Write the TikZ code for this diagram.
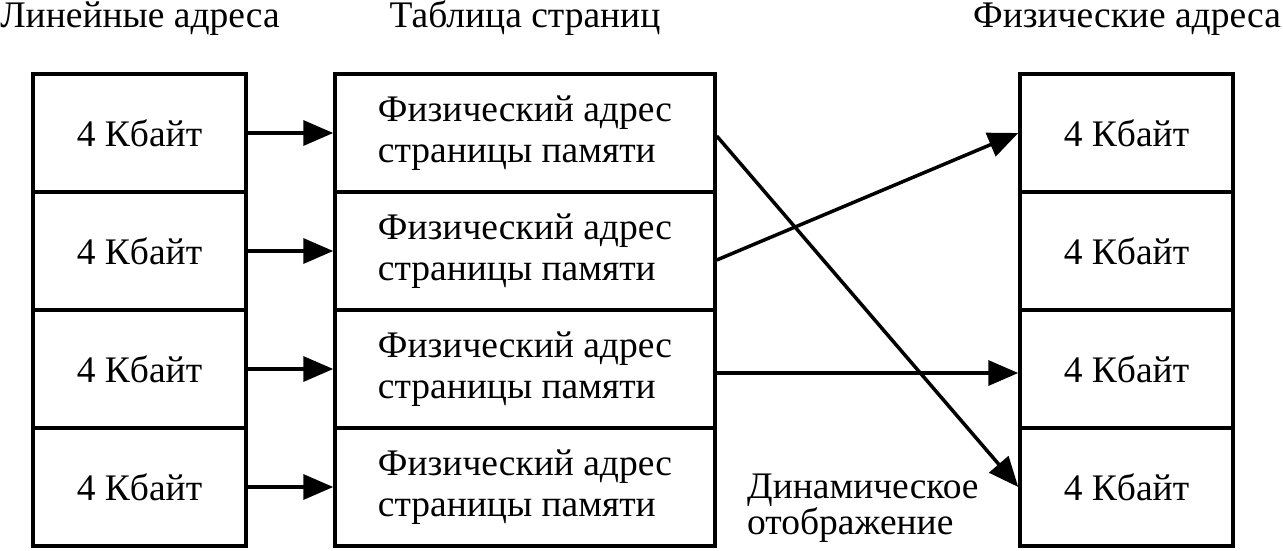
\documentclass[tikz,border=0pt]{standalone}
\usepackage{fontspec}
\setmainfont{LiberationSerif}[Extension=.ttf, UprightFont=*-Regular, BoldFont=*-Bold, ItalicFont=*-Italic, BoldItalicFont=*-BoldItalic]
\usetikzlibrary{arrows.meta, positioning}

\begin{document}
\begin{tikzpicture}[
    x=1pt, y=-1pt,
    font=\fontsize{37.5}{41}\selectfont,
    cell/.style={rectangle, draw, line width=3.5pt, minimum width=213pt, minimum height=118pt, inner sep=0pt},
    entry/.style={rectangle, draw, line width=3.5pt, minimum width=380pt, minimum height=118pt, inner sep=0pt, align=left},
    title/.style={inner sep=0pt, anchor=base},
    arrow/.style={-{Triangle[length=30pt, width=25pt]}, line width=3.5pt}
]
    \useasboundingbox (0,0) rectangle (1283,550);

    % Titles
    \node[title] (lintitle) at (140,27) {Линейные адреса};
    \node[title] (pttitle) at (525,27) {Таблица страниц};
    \node[title] (phystitle) at (1127,27) {Физические адреса};

    % Linear addresses
    \node[cell] (lin1) at (139.5,133) {4 Кбайт};
    \node[cell] (lin2) at (139.5,251) {4 Кбайт};
    \node[cell] (lin3) at (139.5,369) {4 Кбайт};
    \node[cell] (lin4) at (139.5,487) {4 Кбайт};

    % Page table
    \node[entry] (pt1) at (525,133) {Физический адрес\\страницы памяти};
    \node[entry] (pt2) at (525,251) {Физический адрес\\страницы памяти};
    \node[entry] (pt3) at (525,369) {Физический адрес\\страницы памяти};
    \node[entry] (pt4) at (525,487) {Физический адрес\\страницы памяти};

    % Physical addresses
    \node[cell] (phys1) at (1126.5,133) {4 Кбайт};
    \node[cell] (phys2) at (1126.5,251) {4 Кбайт};
    \node[cell] (phys3) at (1126.5,369) {4 Кбайт};
    \node[cell] (phys4) at (1126.5,487) {4 Кбайт};

    \node[inner sep=0pt, align=left, anchor=west, font=\fontsize{37.5}{33}\selectfont] (dyn) at (747,508) {Динамическое\\отображение};

    % Lookups
    \draw[arrow] (lin1) -- (pt1);
    \draw[arrow] (lin2) -- (pt2);
    \draw[arrow] (lin3) -- (pt3);
    \draw[arrow] (lin4) -- (pt4);

    % Mapping
    \draw[arrow] ([yshift=-3pt]pt1.east) -- (phys4.west);
    \draw[arrow] ([yshift=-9pt]pt2.east) -- (phys1.west);
    \draw[arrow] ([yshift=-4pt]pt3.east) -- ([yshift=-4pt]phys3.west);
\end{tikzpicture}
\end{document}
